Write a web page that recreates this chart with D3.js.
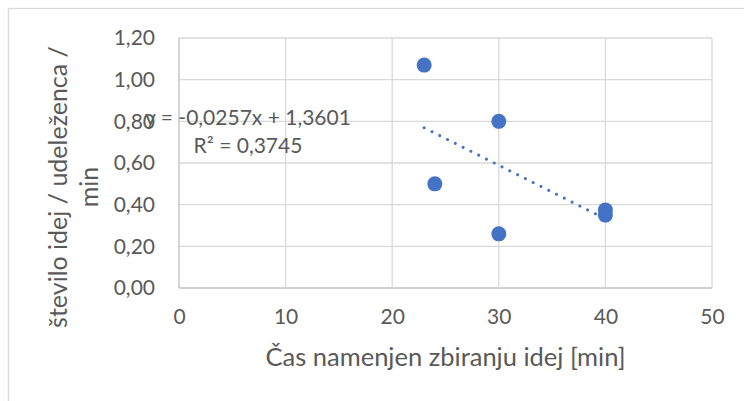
<!DOCTYPE html>
<html>
<head>
<meta charset="utf-8">
<script src="https://cdn.jsdelivr.net/npm/d3@7"></script>
<style>
  html, body { margin: 0; padding: 0; background: #fff; }
  svg { display: block; }
  text { font-family: Lato, "Open Sans", sans-serif; fill: #595959; }
</style>
</head>
<body>
<svg id="chart" width="744" height="401"></svg>
<script>
// Participants' time for collecting ideas vs. ideas per participant per minute
const timeMin = [23, 24, 30, 30, 40, 40];
const ideasPerMin = [1.07, 0.50, 0.80, 0.26, 0.375, 0.35];

const xTicks = [0, 10, 20, 30, 40, 50];
const yTicks = [0, 0.2, 0.4, 0.6, 0.8, 1.0, 1.2];

// Linear trendline as reported by the fit
const slope = -0.0257;
const intercept = 1.3601;
const rSquared = 0.3745;

const fmt2 = v => v.toFixed(2).replace(".", ",");
const fmt4 = v => v.toFixed(4).replace(".", ",");

const svg = d3.select("#chart");
const plot = { left: 179, right: 712, top: 38, bottom: 288 };

// Outer chart frame
svg.append("rect")
  .attr("x", 8.5).attr("y", 8.5)
  .attr("width", 760).attr("height", 420)
  .attr("fill", "none").attr("stroke", "#d9d9d9").attr("stroke-width", 1.3);

const x = d3.scaleLinear().domain([0, 50]).range([plot.left, plot.right]);
const y = d3.scaleLinear().domain([0, 1.2]).range([plot.bottom, plot.top]);

// Gridlines
const grid = svg.append("g");
grid.selectAll("line.h").data(yTicks).join("line")
  .attr("x1", plot.left).attr("x2", plot.right)
  .attr("y1", d => y(d)).attr("y2", d => y(d))
  .attr("stroke", d => d === 0 ? "#bfbfbf" : "#d9d9d9").attr("stroke-width", 1.3);
grid.selectAll("line.v").data(xTicks).join("line")
  .attr("y1", plot.top).attr("y2", plot.bottom)
  .attr("x1", d => x(d)).attr("x2", d => x(d))
  .attr("stroke", d => d === 0 ? "#bfbfbf" : "#d9d9d9").attr("stroke-width", 1.3);

// Axes (labels only; lines are drawn by the grid)
const yAxis = d3.axisLeft(y).tickValues(yTicks).tickFormat(fmt2).tickSize(0).tickPadding(24);
svg.append("g").attr("transform", `translate(${plot.left},0)`).call(yAxis)
  .call(g => g.select(".domain").remove())
  .call(g => g.selectAll("text").style("font-size", "21px").attr("fill", "#595959"));

const xAxis = d3.axisBottom(x).tickValues(xTicks).tickFormat(d3.format("d")).tickSize(0).tickPadding(21);
svg.append("g").attr("transform", `translate(0,${plot.bottom})`).call(xAxis)
  .call(g => g.select(".domain").remove())
  .call(g => g.selectAll("text").style("font-size", "21px").attr("fill", "#595959"));

// Axis titles
svg.append("text")
  .attr("x", (plot.left + plot.right) / 2).attr("y", 366)
  .attr("text-anchor", "middle").style("font-size", "25.5px")
  .text("Čas namenjen zbiranju idej [min]");

const yTitle = svg.append("text")
  .attr("transform", "translate(0,187) rotate(-90)")
  .attr("text-anchor", "middle").style("font-size", "25px");
yTitle.append("tspan").attr("x", 0).attr("y", 67).text("število idej / udeleženca /");
yTitle.append("tspan").attr("x", 0).attr("y", 98).text("min");

// Points
svg.append("g").selectAll("circle")
  .data(timeMin.map((t, i) => [t, ideasPerMin[i]]))
  .join("circle")
  .attr("cx", d => x(d[0])).attr("cy", d => y(d[1]))
  .attr("r", 7.5).attr("fill", "#4472C4");

// Dotted trendline over the data range
const xMin = d3.min(timeMin), xMax = d3.max(timeMin);
const line = d3.line().x(d => x(d)).y(d => y(slope * d + intercept));
svg.append("path")
  .attr("d", line([xMin, xMax]))
  .attr("fill", "none").attr("stroke", "#4472C4")
  .attr("stroke-width", 3).attr("stroke-linecap", "round")
  .attr("stroke-dasharray", "0.01 8.7");

// Trendline equation
const eq = svg.append("text").attr("text-anchor", "middle").style("font-size", "21px");
eq.append("tspan").attr("x", 248).attr("y", 125)
  .text(`y = ${fmt4(slope)}x + ${fmt4(intercept)}`);
eq.append("tspan").attr("x", 248).attr("y", 153)
  .text(`R² = ${fmt4(rSquared)}`);
</script>
</body>
</html>
